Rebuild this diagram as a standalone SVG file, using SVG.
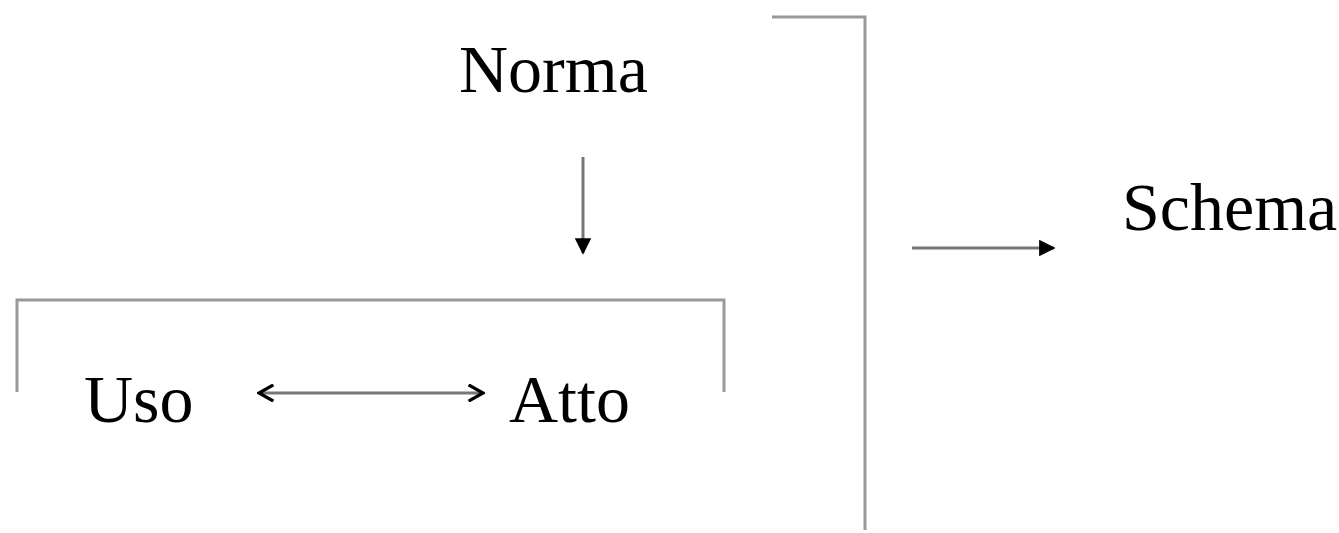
<svg xmlns="http://www.w3.org/2000/svg" width="1339" height="533" viewBox="0 0 1339 533">
<style>
.t{font-family:"Liberation Serif","Times New Roman",serif;font-size:68px;fill:#000}
.br{fill:none;stroke:#999;stroke-width:3}
.ln{fill:none;stroke:#777;stroke-width:3}
</style>
<defs>
<marker id="tri" viewBox="0 0 10 10" refX="9" refY="5" markerWidth="5.5" markerHeight="5.5" orient="auto" markerUnits="strokeWidth">
<path d="M0,0 L10,5 L0,10 z" fill="#000"/>
</marker>
<marker id="chev" viewBox="0 0 10 10" refX="9" refY="5" markerWidth="6" markerHeight="6" orient="auto-start-reverse" markerUnits="strokeWidth">
<path d="M1,0.5 L9,5 L1,9.5" fill="none" stroke="#000" stroke-width="1.8"/>
</marker>
</defs>
<rect width="1339" height="533" fill="#fff"/>
<g id="brackets">
<path class="br" d="M772,17 H865 V530"/>
<path class="br" d="M17,392 V300 H724 V392"/>
</g>
<g id="connectors">
<line class="ln" x1="583" y1="157" x2="583" y2="253" marker-end="url(#tri)"/>
<line class="ln" x1="259" y1="393" x2="483" y2="393" marker-start="url(#chev)" marker-end="url(#chev)"/>
<line class="ln" x1="912" y1="248" x2="1054" y2="248" marker-end="url(#tri)"/>
</g>
<g id="norma"><text class="t" x="459" y="92">Norma</text></g>
<g id="uso"><text class="t" x="84" y="422">Uso</text></g>
<g id="atto"><text class="t" x="509" y="422">Atto</text></g>
<g id="schema"><text class="t" x="1122" y="230">Schema</text></g>
</svg>
